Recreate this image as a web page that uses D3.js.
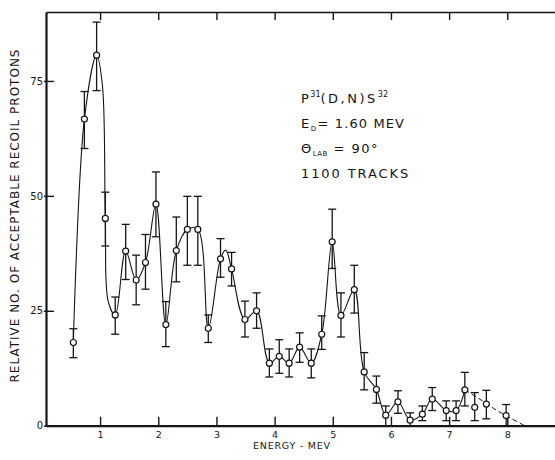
<!DOCTYPE html>
<html>
<head>
<meta charset="utf-8">
<script src="https://cdn.jsdelivr.net/npm/d3@7"></script>
<style>
  body { margin: 0; background: #fff; }
  svg { display: block; font-family: "DejaVu Sans", sans-serif; }
</style>
</head>
<body>
<svg id="chart" width="555" height="460"></svg>
<script>
// measured points: energy (MeV), relative count, error bar ends
var energy = [0.54, 0.73, 0.94, 1.09, 1.26, 1.44, 1.62, 1.78, 1.96, 2.13,
  2.31, 2.50, 2.68, 2.86, 3.07, 3.26, 3.49, 3.69, 3.91, 4.08,
  4.25, 4.43, 4.63, 4.81, 4.99, 5.14, 5.37, 5.54, 5.75, 5.91,
  6.12, 6.33, 6.54, 6.71, 6.95, 7.12, 7.27, 7.44, 7.64, 7.98];
var counts = [18.1, 66.7, 80.6, 45.1, 24.1, 38.0, 31.7, 35.5, 48.2, 22.0,
  38.1, 42.7, 42.7, 21.2, 36.3, 34.1, 23.1, 25.0, 13.6, 15.1,
  13.6, 17.1, 13.6, 19.9, 40.0, 24.0, 29.6, 11.7, 7.9, 2.3,
  5.2, 1.2, 2.5, 5.8, 3.3, 3.3, 7.8, 4.0, 4.7, 2.2];
var errLow = [14.8, 60.3, 72.9, 39.1, 19.9, 31.8, 26.3, 29.7, 41.1, 17.2,
  31.3, 34.9, 34.9, 18.1, 32.3, 30.4, 19.3, 21.2, 10.6, 11.4,
  10.6, 13.8, 10.4, 16.6, 34.2, 19.3, 24.5, 7.8, 4.9, 0,
  2.7, 0, 1.1, 3.3, 1.1, 1.1, 4.3, 1.1, 1.5, 0];
var errHigh = [21.1, 72.7, 87.8, 50.8, 28.0, 43.8, 37.1, 41.6, 55.2, 27.0,
  45.4, 49.9, 49.9, 24.1, 40.7, 37.7, 27.1, 28.9, 16.7, 18.7,
  16.7, 20.2, 16.7, 23.9, 47.1, 28.9, 34.9, 15.9, 10.8, 4.3,
  7.6, 2.8, 4.3, 8.3, 5.4, 5.4, 11.6, 7.2, 7.7, 4.6];

// hand drawn curve through the points
var fitE = [0.54, 0.73, 0.94, 1.04, 1.09, 1.14, 1.26, 1.44, 1.62, 1.78,
  1.96, 2.13, 2.31, 2.50, 2.68, 2.86, 3.07, 3.16, 3.26, 3.49,
  3.69, 3.91, 4.08, 4.25, 4.43, 4.63, 4.81, 4.99, 5.14, 5.37,
  5.54, 5.75, 5.91, 6.12, 6.33, 6.54, 6.71, 6.95, 7.12, 7.27];
var fitV = [18.1, 66.7, 80.6, 74, 45.1, 27, 24.1, 38.0, 31.7, 35.5,
  48.2, 22.0, 38.1, 42.7, 42.7, 21.2, 36.3, 38.2, 34.1, 23.1,
  25.0, 13.6, 15.1, 13.6, 17.1, 13.6, 19.9, 40.0, 24.0, 29.6,
  11.7, 7.9, 2.3, 5.2, 1.2, 2.5, 5.8, 3.3, 3.3, 7.8];
// dashed tail to zero
var tailE = [7.27, 7.50, 7.76, 7.99, 8.30];
var tailV = [7.8, 6.0, 3.8, 2.1, 0];

var xTicks = [1, 2, 3, 4, 5, 6, 7, 8];
var yTicks = [0, 25, 50, 75];

var ink = "#151515";
var svg = d3.select("#chart");

var x = d3.scaleLinear().domain([0.07, 8.82]).range([46, 555]);
var y = d3.scaleLinear().domain([0, 90]).range([425.7, 12]);

// axes
var gB = svg.append("g")
  .attr("transform", "translate(0," + y(0) + ")")
  .call(d3.axisBottom(x).tickValues(xTicks).tickSizeInner(-9).tickSizeOuter(0));
var gT = svg.append("g")
  .attr("transform", "translate(0," + y(90) + ")")
  .call(d3.axisTop(x).tickValues(xTicks).tickSizeInner(-8).tickSizeOuter(0).tickFormat(""));
var gL = svg.append("g")
  .attr("transform", "translate(" + x(0.07) + ",0)")
  .call(d3.axisLeft(y).tickValues(yTicks).tickSizeInner(-8).tickSizeOuter(0).tickPadding(3));

[gB, gT, gL].forEach(function(g) {
  g.select(".domain").attr("stroke", ink);
  g.selectAll(".tick line").attr("stroke", ink).attr("stroke-width", 1.4);
  g.selectAll(".tick text").attr("fill", ink).style("font-size", "10px")
    .style("font-family", "DejaVu Sans, sans-serif");
});
gB.select(".domain").attr("stroke-width", 2.2);
gL.select(".domain").attr("stroke-width", 2.2);
gT.select(".domain").attr("stroke-width", 1.6);
gL.selectAll(".tick line").attr("x1", -2);
// bottom labels sit close under the axis
gB.selectAll(".tick text").attr("y", 12).attr("dy", 0).style("font-size", "9.5px");

// fitted curve
var line = d3.line()
  .x(function(d) { return x(d[0]); })
  .y(function(d) { return y(d[1]); })
  .curve(d3.curveCatmullRom.alpha(0.5));

svg.append("path")
  .datum(fitE.map(function(e, i) { return [e, fitV[i]]; }))
  .attr("d", line)
  .attr("fill", "none")
  .attr("stroke", ink)
  .attr("stroke-width", 1.1);

svg.append("path")
  .datum(tailE.map(function(e, i) { return [e, tailV[i]]; }))
  .attr("d", line)
  .attr("fill", "none")
  .attr("stroke", ink)
  .attr("stroke-width", 1)
  .attr("stroke-dasharray", "5,3");

// error bars
var pts = energy.map(function(e, i) {
  return { e: e, v: counts[i], lo: errLow[i], hi: errHigh[i] };
});
var eb = svg.append("g").attr("stroke", ink).attr("stroke-width", 1.3);
eb.selectAll(".bar").data(pts).enter().append("line")
  .attr("x1", function(d) { return x(d.e); })
  .attr("x2", function(d) { return x(d.e); })
  .attr("y1", function(d) { return y(d.lo); })
  .attr("y2", function(d) { return y(d.hi); });
eb.selectAll(".capHi").data(pts).enter().append("line")
  .attr("x1", function(d) { return x(d.e) - 4; })
  .attr("x2", function(d) { return x(d.e) + 4; })
  .attr("y1", function(d) { return y(d.hi); })
  .attr("y2", function(d) { return y(d.hi); });
eb.selectAll(".capLo").data(pts.filter(function(d) { return d.lo > 0; })).enter().append("line")
  .attr("x1", function(d) { return x(d.e) - 4; })
  .attr("x2", function(d) { return x(d.e) + 4; })
  .attr("y1", function(d) { return y(d.lo); })
  .attr("y2", function(d) { return y(d.lo); });

// points
svg.append("g").selectAll("circle").data(pts).enter().append("circle")
  .attr("cx", function(d) { return x(d.e); })
  .attr("cy", function(d) { return y(d.v); })
  .attr("r", 3)
  .attr("fill", "#fff")
  .attr("stroke", ink)
  .attr("stroke-width", 1.2);

// axis titles
svg.append("text")
  .attr("transform", "translate(19," + 216 + ") rotate(-90)")
  .attr("text-anchor", "middle")
  .attr("fill", ink)
  .style("font-size", "12px")
  .attr("textLength", 333)
  .attr("lengthAdjust", "spacing")
  .text("RELATIVE NO. OF ACCEPTABLE RECOIL PROTONS");

svg.append("text")
  .attr("x", 291.5).attr("y", 449)
  .attr("text-anchor", "middle")
  .attr("fill", ink)
  .style("font-size", "9.5px")
  .attr("textLength", 77)
  .attr("lengthAdjust", "spacing")
  .text("ENERGY - MEV");

// annotation
var ann = svg.append("g").attr("fill", ink).style("font-size", "13px").style("letter-spacing", "1.5px");
var t1 = ann.append("text").attr("x", 301).attr("y", 103);
t1.append("tspan").text("P");
t1.append("tspan").attr("dy", -6).style("font-size", "8px").style("letter-spacing", "0px").text("31");
t1.append("tspan").attr("dy", 6).style("letter-spacing", "2.5px").text("(D,N)S");
t1.append("tspan").attr("dy", -6).style("font-size", "8px").style("letter-spacing", "0px").text("32");

var t2 = ann.append("text").attr("x", 301).attr("y", 128);
t2.append("tspan").text("E");
t2.append("tspan").attr("dy", 3).style("font-size", "7px").text("D");
t2.append("tspan").attr("dy", -3).style("letter-spacing", "1.1px").text("= 1.60 MEV");

var t3 = ann.append("text").attr("x", 301).attr("y", 153);
t3.append("tspan").text("\u0398");
t3.append("tspan").attr("dy", 3).style("font-size", "7px").style("letter-spacing", "0.5px").text("LAB");
t3.append("tspan").attr("dy", -3).text(" = 90\u00b0");

ann.append("text").attr("x", 301).attr("y", 178).style("letter-spacing", "1.9px").text("1100 TRACKS");
</script>
</body>
</html>
